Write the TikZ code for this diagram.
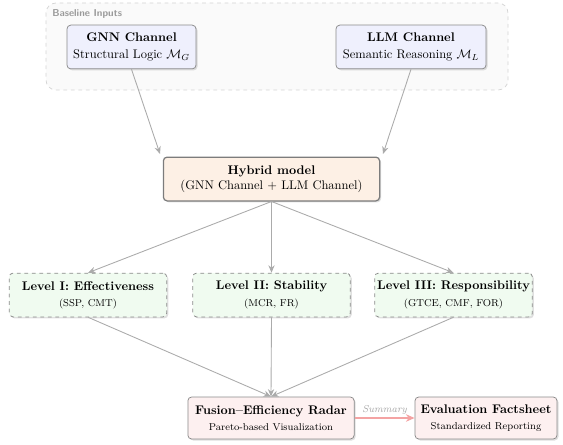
\documentclass[tikz,border=0pt]{standalone}
\usetikzlibrary{arrows.meta,shadows,positioning}
\definecolor{bluefill}{HTML}{EFF0FD}
\definecolor{orangefill}{HTML}{FDF0E5}
\definecolor{greenfill}{HTML}{F0FBF0}
\definecolor{pinkfill}{HTML}{FDF0F0}
\definecolor{basefill}{HTML}{FAFAFA}
\definecolor{basegray}{HTML}{D4D4D4}
\definecolor{edgegray}{HTML}{8A8A8A}
\definecolor{arrowgray}{HTML}{ABABAB}
\definecolor{sumred}{HTML}{F4A3A3}
\begin{document}
\begin{tikzpicture}[x=0.8pt,y=-0.8pt,
  shade box/.style={rounded corners=3pt, align=center, inner sep=2pt,
    drop shadow={opacity=0.25, shadow xshift=1.2pt, shadow yshift=-1.2pt}},
  inputbox/.style={shade box, draw=edgegray, fill=bluefill, line width=0.6pt,
    minimum width=103pt, minimum height=35pt},
  hybridbox/.style={shade box, draw=edgegray!90!black, fill=orangefill, line width=1pt,
    minimum width=173pt, minimum height=35pt},
  levelbox/.style={shade box, draw=edgegray, fill=greenfill, dashed, line width=0.6pt,
    minimum width=126pt, minimum height=35pt},
  outbox/.style={shade box, draw=edgegray, fill=pinkfill, line width=0.6pt,
    minimum height=33.6pt},
  flow/.style={draw=arrowgray, line width=0.7pt, -{Stealth[length=6pt,width=5pt]}},
  sumflow/.style={draw=sumred, line width=1pt, -{Stealth[length=7pt,width=6pt]}}
]
\useasboundingbox (0,0) rectangle (563,445);

% Baseline inputs group
\draw[draw=basegray, dashed, fill=basefill, rounded corners=8pt, line width=0.6pt]
  (46,3) rectangle (508,90);
\node[anchor=west, text=black!40, font=\sffamily\bfseries\footnotesize, inner sep=0pt]
  (baselabel) at (52,14) {Baseline Inputs};

\node[inputbox, minimum width=103.2pt] (gnn) at (131.5,47)
  {\textbf{GNN Channel}\\[1pt] Structural Logic $\mathcal{M}_G$};
\node[inputbox, minimum width=120pt] (llm) at (411,47)
  {\textbf{LLM Channel}\\[1pt] Semantic Reasoning $\mathcal{M}_L$};

\node[hybridbox] (hyb) at (271.5,179)
  {\textbf{Hybrid model}\\ (GNN Channel + LLM Channel)};

\node[levelbox] (l1) at (88,295)
  {\textbf{Level I: Effectiveness}\\[1pt] {\footnotesize (SSP, CMT)}};
\node[levelbox] (l2) at (271.5,295)
  {\textbf{Level II: Stability}\\[1pt] {\footnotesize (MCR, FR)}};
\node[levelbox] (l3) at (453.5,295)
  {\textbf{Level III: Responsibility}\\[1pt] {\footnotesize (GTCE, CMF, FOR)}};

\node[outbox, minimum width=133pt] (radar) at (271,418)
  {\textbf{Fusion--Efficiency Radar}\\[1pt] {\footnotesize Pareto-based Visualization}};
\node[outbox, minimum width=113.6pt] (fact) at (486,418)
  {\textbf{Evaluation Factsheet}\\[1pt] {\footnotesize Standardized Reporting}};

\coordinate (hybnw) at (160,154);
\coordinate (hybne) at (383,154);
\draw[flow] (gnn.south) -- (hybnw);
\draw[flow] (llm.south) -- (hybne);

\draw[flow] (hyb.south) -- (l1.north);
\draw[flow] (hyb.south) -- (l2.north);
\draw[flow] (hyb.south) -- (l3.north);

\draw[flow] (l1.south) -- (radar.north);
\draw[flow] (l2.south) -- (radar.north);
\draw[flow] (l3.south) -- (radar.north);

\draw[sumflow] (radar.east) -- node[above, text=black!35, font=\footnotesize\itshape, inner sep=2pt] {Summary} (fact.west);
\end{tikzpicture}
\end{document}
